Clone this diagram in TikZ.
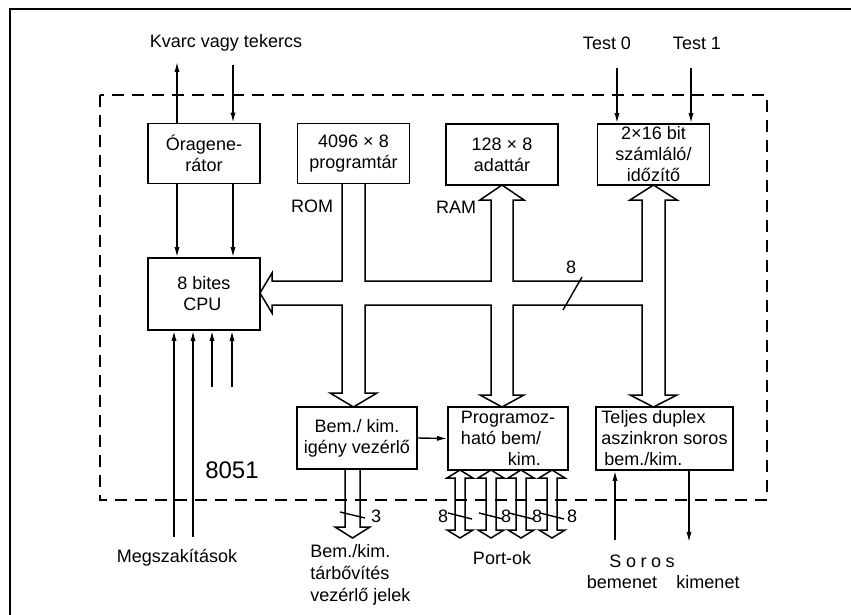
\documentclass[tikz,border=0pt]{standalone}
\usepackage{fontspec}
\setmainfont{Liberation Sans}
\usetikzlibrary{arrows.meta,calc}

\begin{document}
\begin{tikzpicture}[x=0.5pt,y=-0.5pt,
  blk/.style={draw,line width=0.9pt,minimum width=56pt,minimum height=30pt,inner sep=0.5pt,align=center,font=\fontsize{9}{10.5}\selectfont},
  sig/.style={line width=0.7pt,-{Latex[length=5pt,width=2.6pt]}},
  bus/.style={line width=0.75pt,line join=miter},
  lbl/.style={font=\fontsize{9}{11}\selectfont,inner sep=0pt}]
  \useasboundingbox (0,0) rectangle (851,615);

  % page frame and chip border
  \draw[line width=0.6pt] (10,615) -- (10,9) -- (851,9);
  \draw[line width=0.7pt,dash pattern=on 6pt off 4pt] (100,95) rectangle (767,500);

  % blocks
  \node[blk] (osc) at (204,153.5) {Óragene-\\rátor};
  \node[blk] (rom) at (353.5,153.5) {4096 × 8\\programtár};
  \node[blk,minimum height=30.5pt] (ram) at (502,154.5) {128 × 8\\adattár};
  \node[blk,minimum height=30.5pt] (tmr) at (653.5,154.5) {2×16 bit\\számláló/\\időzítő};
  \node[blk,minimum height=36pt,align=left] (cpu) at (204,294) {8 bites\\\,\,CPU};
  \node[blk,minimum width=60pt,minimum height=31pt] (ioc) at (357,438) {Bem./ kim.\\igény vezérlő};
  \node[blk,minimum width=60pt,minimum height=31.5pt,align=left] (pio) at (508,438.5) {Programoz-\\ható bem/\\\hspace*{2.6em}kim.};
  \node[blk,minimum width=68.5pt,minimum height=31.5pt,align=left] (uart) at (664.5,438.5) {Teljes duplex\\aszinkron soros\\\,bem./kim.};

  % outside labels
  \node[lbl] (xtal) at (226,43) {Kvarc vagy tekercs};
  \node[lbl] (test0) at (607,43) {Test 0};
  \node[lbl] (test1) at (697,43) {Test 1};
  \node[lbl] (romlbl) at (312,206) {ROM};
  \node[lbl] (ramlbl) at (456,207) {RAM};
  \node[font=\fontsize{12}{14}\selectfont,inner sep=0pt] (chip) at (232,470) {8051};
  \node[lbl] (irq) at (177,558) {Megszakítások};
  \node[lbl,align=left,anchor=north west] (ext) at (310,544) {Bem./kim.\\tárbővítés\\vezérlő jelek};
  \node[lbl] (ports) at (502,558) {Port-ok};
  \node[lbl] (soros) at (642,561) {\addfontfeature{LetterSpace=25}Soros};
  \node[lbl] (rxd) at (622,582) {bemenet};
  \node[lbl] (txd) at (708,582) {kimenet};

  % oscillator lines
  \coordinate (x1) at (177,62);
  \coordinate (x2) at (233,65);
  \draw[sig] (osc.north -| x1) -- (x1);
  \draw[sig] (x2) -- (osc.north -| x2);
  \draw[sig] (osc.south -| x1) -- (cpu.north -| x1);
  \draw[sig] (osc.south -| x2) -- (cpu.north -| x2);

  % interrupt and control inputs
  \foreach \px/\py in {174/537,193/537,212/387,232/387} {
    \coordinate (in) at (\px,\py);
    \draw[sig] (in) -- (cpu.south -| in);
  }

  % test inputs
  \coordinate (t0) at (617,68);
  \coordinate (t1) at (691,68);
  \draw[sig] (t0) -- (tmr.north -| t0);
  \draw[sig] (t1) -- (tmr.north -| t1);

  % serial lines
  \coordinate (rx) at (615,540);
  \coordinate (tx) at (689,542);
  \draw[sig] (rx) -- (uart.south -| rx);
  \draw[sig] (uart.south -| tx) -- (tx);

  % request controller to ports
  \draw[sig] (ioc.east) -- (pio.west);

  % internal bus
  \draw[bus] (342,183) -- (342,281) -- (272,281) -- (272,273) -- (260,293)
    -- (272,313) -- (272,305) -- (342,305) -- (342,393) -- (330,393)
    -- (353.5,407) -- (377,393) -- (365,393) -- (365,305) -- (491,305)
    -- (491,395) -- (480,395) -- (502,407) -- (524,395) -- (513,395)
    -- (513,305) -- (642,305) -- (642,395) -- (630,395) -- (653.5,407)
    -- (677,395) -- (665,395) -- (665,200) -- (677,200) -- (653.5,185)
    -- (630,200) -- (642,200) -- (642,281) -- (513,281) -- (513,200)
    -- (524,200) -- (502,185) -- (480,200) -- (491,200) -- (491,281)
    -- (365,281) -- (365,183);
  \draw[line width=0.7pt] (563,310) -- (582,277);
  \node[lbl] (buswidth) at (571,267) {8};

  % memory expansion control
  \draw[bus] (345,469) -- (345,527) -- (335,527) -- (352.5,538) -- (370,527)
    -- (360,527) -- (360,469);
  \draw[line width=0.7pt] (340,512) -- (365,518);
  \node[lbl] (extw) at (376,516) {3};

  % ports
  \foreach \cx in {460,491,521,552} {
    \draw[bus] (\cx,470) -- (\cx+13,478) -- (\cx+5,478) -- (\cx+5,530)
      -- (\cx+13,530) -- (\cx,538) -- (\cx-13,530) -- (\cx-5,530)
      -- (\cx-5,478) -- (\cx-13,478) -- cycle;
    \draw[line width=0.7pt] (\cx-12,513) -- (\cx+12,519);
  }
  \foreach \lx in {443,506,537,572}
    \node[lbl] at (\lx,516) {8};
\end{tikzpicture}
\end{document}
